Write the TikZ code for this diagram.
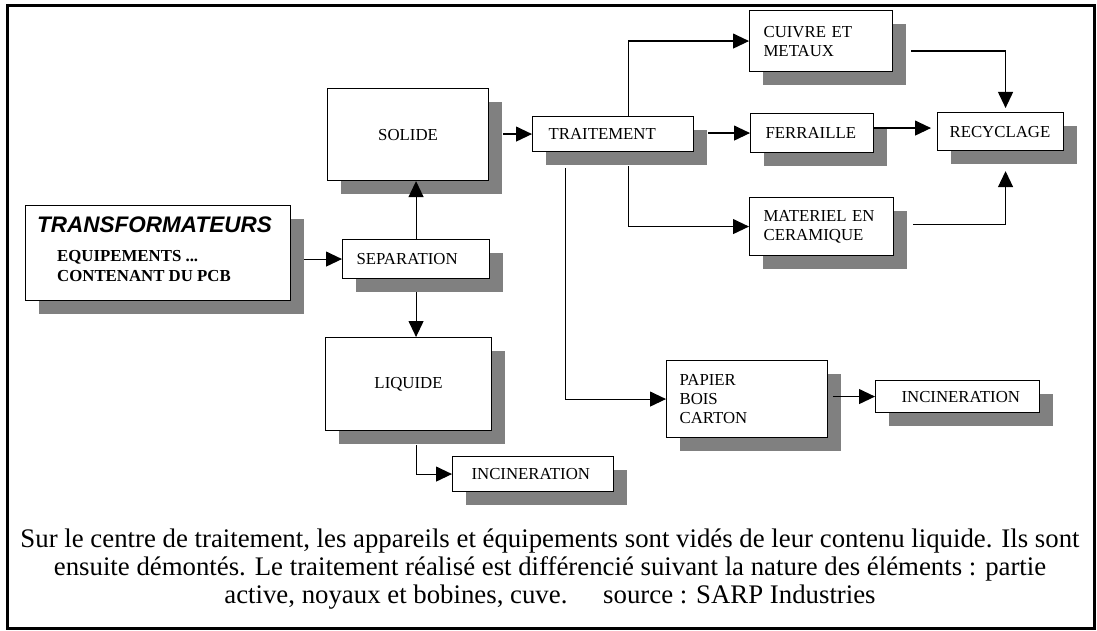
\documentclass[tikz,border=0pt]{standalone}
\usepackage{fontspec}
\setmainfont{Liberation Serif}
\newfontfamily\arialfont{Liberation Sans}
\usetikzlibrary{arrows.meta,shadows,calc}
\definecolor{shade}{RGB}{128,128,128}

\begin{document}
\begin{tikzpicture}[x=1pt,y=-1pt,
  box/.style={draw=black, line width=1.1pt, fill=white, anchor=north west,
    inner ysep=0pt, align=left, font=\fontsize{16.8}{19}\selectfont,
    drop shadow={shadow xshift=13pt, shadow yshift=-13pt, fill=shade, opacity=1}},
  arr/.style={line width=1.1pt, -{Triangle[length=16pt,width=15pt]}},
  lbl/.style={anchor=base west, inner sep=0pt},
  captxt/.style={anchor=base, inner sep=0pt, font=\fontsize{26.8}{30}\selectfont}]

\useasboundingbox (0,0) rectangle (1097,631);
\draw[line width=3pt] (7,6) rectangle (1094,628);

% --- boxes ---
\node[box, minimum width=265pt, minimum height=95pt, text width=265pt, inner xsep=0pt] (trans) at (25,205) {};
\node[lbl, font=\arialfont\bfseries\itshape\fontsize{22.5}{25}\selectfont] (tt) at (37,233) {TRANSFORMATEURS};
\node[lbl, font=\bfseries\fontsize{16.8}{19}\selectfont] (te1) at (57,261) {EQUIPEMENTS ...};
\node[lbl, font=\bfseries\fontsize{16.8}{19}\selectfont] (te2) at (57,281) {CONTENANT DU PCB};

\node[box, minimum width=161pt, minimum height=92pt, text width=161pt, inner xsep=0pt, align=center] (solide) at (327,88) {SOLIDE\\[8pt]};
\node[box, minimum width=147pt, minimum height=39pt, text width=119pt, inner xsep=14pt] (sep) at (342,239) {SEPARATION};
\node[box, minimum width=166pt, minimum height=93pt, text width=166pt, inner xsep=0pt, align=center] (liquide) at (325,337) {LIQUIDE\\[8pt]};
\node[box, minimum width=161pt, minimum height=35pt, text width=123pt, inner xsep=19pt] (inc1) at (452,456) {INCINERATION};
\node[box, minimum width=161pt, minimum height=35pt, text width=129pt, inner xsep=16pt] (trait) at (532,116) {TRAITEMENT};
\node[box, minimum width=143pt, minimum height=61pt, text width=115pt, inner xsep=14pt] (cuivre) at (749,10) {CUIVRE ET\\METAUX};
\node[box, minimum width=123pt, minimum height=39pt, text width=93pt, inner xsep=15pt] (ferraille) at (750,113) {FERRAILLE};
\node[box, minimum width=126pt, minimum height=38pt, text width=102pt, inner xsep=12pt] (recyc) at (937,112) {RECYCLAGE};
\node[box, minimum width=144pt, minimum height=58pt, text width=116pt, inner xsep=14pt] (materiel) at (749,197) {MATERIEL EN\\CERAMIQUE};
\node[box, minimum width=161pt, minimum height=77pt, text width=135pt, inner xsep=13pt] (papier) at (666,360) {PAPIER\\BOIS\\CARTON};
\node[box, minimum width=164pt, minimum height=32pt, text width=112pt, inner xsep=26pt] (inc2) at (875,380) {INCINERATION};

% --- connectors ---
\draw[arr] ([xshift=13pt]trans.east |- sep.west) -- (sep.west);
\draw[arr] (sep.north) -- (sep.north |- solide.south);
\draw[arr] ([yshift=-13pt]sep.south) -- (sep.south |- liquide.north);
\draw[arr] ([yshift=-14pt]sep.south |- liquide.south) |- (inc1.west);
\draw[arr] ([xshift=14pt]solide.east |- trait.west) -- (trait.west);
\draw[arr] ([xshift=15pt]trait.north) |- (cuivre.west);
\draw[arr] ([xshift=14pt]trait.east |- ferraille.west) -- (ferraille.west);
\draw[arr] ([xshift=15pt,yshift=-14pt]trait.south) |- (materiel.west);
\draw[arr] ([xshift=-48pt,yshift=-16pt]trait.south) |- (papier.west);
\draw[arr] ([xshift=18pt,yshift=-10pt]cuivre.east) -| ([xshift=5pt,yshift=4pt]recyc.north);
\draw[arr] ([yshift=5pt]ferraille.east) -- ([yshift=5pt,xshift=-6pt]ferraille.east -| recyc.west);
\draw[arr] ([xshift=19pt,yshift=2pt]materiel.east) -| ([xshift=5pt,yshift=-20pt]recyc.south);
\draw[arr] ([xshift=5pt]papier.east |- inc2.west) -- (inc2.west);

% --- caption ---
\node[captxt] (cap1) at (550,547) {Sur le centre de traitement, les appareils et équipements sont vidés de leur contenu liquide. Ils sont};
\node[captxt] (cap2) at (550,575) {ensuite démontés. Le traitement réalisé est différencié suivant la nature des éléments : partie};
\node[captxt] (cap3) at (550,603) {active, noyaux et bobines, cuve.\hspace{1em} source : SARP Industries};
\end{tikzpicture}
\end{document}
